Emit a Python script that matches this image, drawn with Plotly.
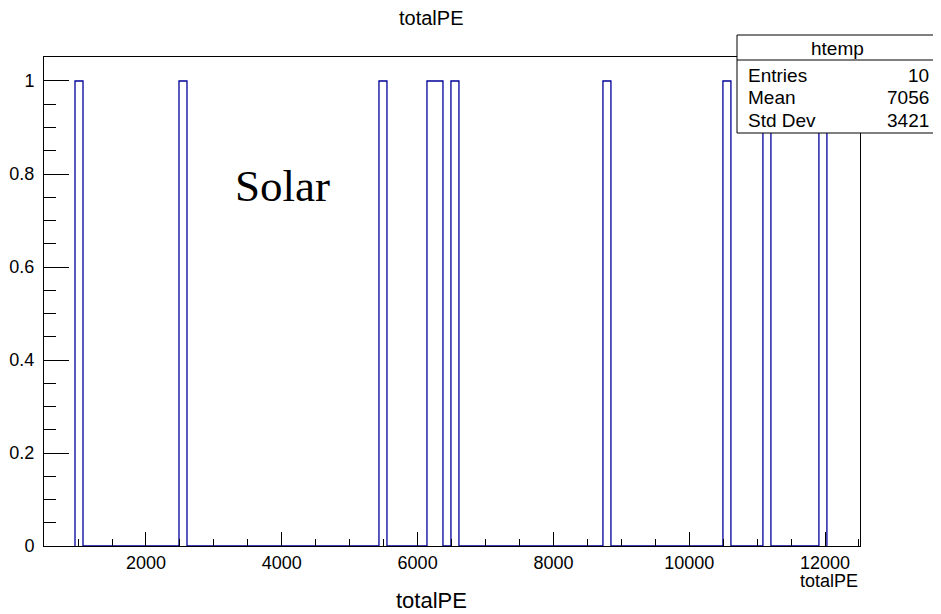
import numpy as np
import plotly.graph_objects as go

# ---- data ----
title_text = "totalPE"
hist_name = "htemp"
event_values = [1013, 2545, 5490, 6197, 6315, 6551, 8789, 10556, 11145, 11969]
bin_low = 954.5
bin_width = 117.8
n_bins = 94
stat_labels = ["Entries", "Mean", "Std Dev"]
stat_values = ["10", "7056", "3421"]
x_range = [498, 12515]
y_range = [0, 1.0516]

# ---- histogram outline ----
edges = bin_low + bin_width * np.arange(n_bins + 1)
counts, _ = np.histogram(event_values, bins=edges)
xs = [edges[0]] + list(edges)
ys = [0] + list(counts) + [0]

OFF = 8  # page body margin
W, H = 941 - OFF, 614 - OFF
L, R, T, B = 44, 860, 57, 546


def px(p):
    return (p - L) / (R - L)


def py(p):
    return (B - p) / (B - T)


fig = go.Figure()
fig.add_trace(go.Scatter(x=xs, y=ys, mode="lines", line=dict(color="#000099", width=1.3, shape="hv"),
                         hoverinfo="skip", showlegend=False))

FONT = "Liberation Sans, Arial, sans-serif"

fig.update_layout(
    width=W, height=H,
    margin=dict(l=L - OFF, r=941 - R, t=T - OFF, b=614 - B, autoexpand=False),
    paper_bgcolor="white", plot_bgcolor="white",
    showlegend=False,
    font=dict(family=FONT, color="black", size=18),
    xaxis=dict(range=x_range, showgrid=False, zeroline=False, showline=True, linecolor="black", linewidth=1,
               mirror=True, ticks="inside", ticklen=14, tickwidth=1, tickcolor="black",
               tick0=0, dtick=2000, tickformat="d", tickfont=dict(size=18, family=FONT),
               minor=dict(ticks="inside", ticklen=7, dtick=500, tick0=0, tickcolor="black", showgrid=False),
               layer="above traces", ticklabelstandoff=0, automargin=False),
    yaxis=dict(range=y_range, showgrid=False, zeroline=False, showline=True, linecolor="black", linewidth=1,
               mirror=True, ticks="inside", ticklen=25, tickwidth=1, tickcolor="black",
               tick0=0, dtick=0.2, tickfont=dict(size=18, family=FONT),
               minor=dict(ticks="inside", ticklen=12, dtick=0.05, tick0=0, tickcolor="black", showgrid=False),
               layer="above traces", ticklabelstandoff=5, automargin=False),
)

# stats box
fig.add_shape(type="rect", xref="paper", yref="paper", x0=px(737), x1=px(939), y0=py(133), y1=py(35),
              line=dict(color="black", width=1), fillcolor="white", layer="above")
fig.add_shape(type="line", xref="paper", yref="paper", x0=px(737), x1=px(939), y0=py(60), y1=py(60),
              line=dict(color="black", width=1), layer="above")

ann = []
ann.append(dict(text=hist_name, x=px(837), y=py(48), xanchor="center", yanchor="middle", size=19))
rows_y = [75, 97, 120]
for lab, val, yy in zip(stat_labels, stat_values, rows_y):
    ann.append(dict(text=lab, x=px(746), y=py(yy), xanchor="left", yanchor="middle", size=19))
    ann.append(dict(text=val, x=px(931), y=py(yy), xanchor="right", yanchor="middle", size=19))

ann.append(dict(text=title_text, x=px(431), y=py(18), xanchor="center", yanchor="middle", size=20))
ann.append(dict(text=title_text, x=px(431), y=py(600), xanchor="center", yanchor="middle", size=22))
ann.append(dict(text=title_text, x=px(860), y=py(581), xanchor="right", yanchor="middle", size=18))

for a in ann:
    fig.add_annotation(text=a["text"], x=a["x"], y=a["y"], xref="paper", yref="paper",
                       xanchor=a["xanchor"], yanchor=a["yanchor"], showarrow=False,
                       font=dict(family=FONT, size=a["size"], color="black"))

fig.add_annotation(text="Solar", x=px(233), y=py(186), xref="paper", yref="paper", xanchor="left",
                   yanchor="middle", showarrow=False,
                   font=dict(family="Liberation Serif, Times New Roman, serif", size=45, color="black"))

fig.write_html("out.html")
